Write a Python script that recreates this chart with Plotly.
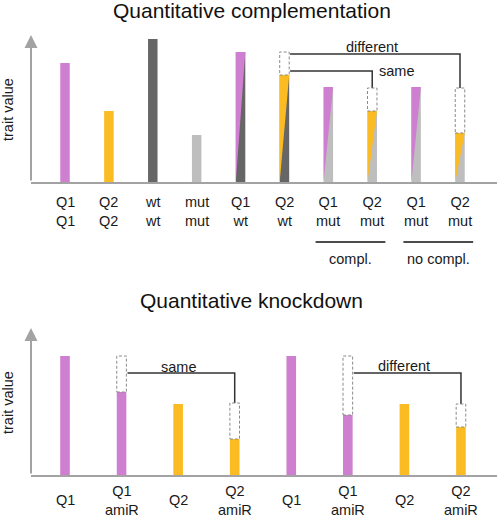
import plotly.graph_objects as go

# ---------------- data ----------------
# top panel: Quantitative complementation
top_line1 = ["Q1", "Q2", "wt", "mut", "Q1", "Q2", "Q1", "Q2", "Q1", "Q2"]
top_line2 = ["Q1", "Q2", "wt", "mut", "wt", "wt", "mut", "mut", "mut", "mut"]
top_values = [119, 71, 143, 47, 130, 107, 95, 71, 95, 49]
top_expected = [None, None, None, None, None, 130, None, 94, None, 94]
top_brackets = [(5, 7, 111), (5, 9, 128)]
top_bracket_text = ["same", "different"]
top_text_x = [7.1, 7.0]
top_text_y = [111, 135]
top_text_anchor = ["left", "center"]
top_groups = ["compl.", "no compl."]
top_group_first = [6, 8]
top_group_last = [7, 9]

# bottom panel: Quantitative knockdown
bot_line1 = ["Q1", "Q1", "Q2", "Q2", "Q1", "Q1", "Q2", "Q2"]
bot_line2 = ["", "amiR", "", "amiR", "", "amiR", "", "amiR"]
bot_values = [119, 83, 71, 36, 119, 60, 71, 48]
bot_expected = [None, 119, None, 72, None, 119, None, 71]
bot_brackets = [(1, 3, 102), (5, 7, 102)]
bot_bracket_text = ["same", "different"]
bot_text_x = [2.0, 6.0]
bot_text_y = [108, 109]

y_max = 147

# ---------------- styles ----------------
COL = {"Q1": "#cf7fd0", "Q2": "#fbbb22", "wt": "#666666", "mut": "#bebebe"}
AXIS = "#a3a3a3"
FONT = "Liberation Sans, Arial, sans-serif"
W, H = 498, 518

fig = go.Figure()
shapes = []
annotations = []


def px_y(p):
    return (H - p) / H


def panel(xa, ya, l1, l2, values, expected, bw, brackets, btext, tx, ty, tanchor):
    xs = list(range(len(values)))
    colors_b = [COL[b] if b in COL else COL[a] for a, b in zip(l1, l2)]
    fig.add_trace(go.Bar(x=xs, y=values, width=bw, marker=dict(color=colors_b, line=dict(width=0)),
                         xaxis=xa, yaxis=ya, hoverinfo="skip"))
    # split (heterozygous) bars: upper-left triangle in first allele colour
    for i, (a, b, v) in enumerate(zip(l1, l2, values)):
        if b in COL and b != a:
            fig.add_trace(go.Scatter(
                x=[i - bw / 2, i - bw / 2, i + bw / 2, i - bw / 2],
                y=[0, v, v, 0], fill="toself", fillcolor=COL[a], mode="lines",
                line=dict(width=0, color=COL[a]), xaxis=xa, yaxis=ya, hoverinfo="skip"))
    # dashed "expected" boxes
    for i, (v, e) in enumerate(zip(values, expected)):
        if e is not None:
            shapes.append(dict(type="rect", xref=xa, yref=ya, x0=i - bw / 2, x1=i + bw / 2,
                               y0=v, y1=e, fillcolor="white",
                               line=dict(color="#8a8a8a", width=1, dash="3px,2px")))
    # brackets
    for (f, t, lvl) in brackets:
        fig.add_trace(go.Scatter(x=[f + bw / 2 + 0.02, t, t], y=[lvl, lvl, expected[t]], mode="lines",
                                 line=dict(color="#333333", width=1.5), xaxis=xa, yaxis=ya,
                                 hoverinfo="skip"))
    for s, x, y, anc in zip(btext, tx, ty, tanchor):
        annotations.append(dict(text=s, x=x, y=y, xref=xa, yref=ya, showarrow=False,
                                xanchor=anc, yanchor="middle",
                                font=dict(size=14.5, color="#1a1a1a", family=FONT)))


bw_top = 0.216
bw_bot = 0.170
panel("x", "y", top_line1, top_line2, top_values, top_expected, bw_top,
      top_brackets, top_bracket_text, top_text_x, top_text_y, top_text_anchor)
panel("x2", "y2", bot_line1, bot_line2, bot_values, bot_expected, bw_bot,
      bot_brackets, bot_bracket_text, bot_text_x, bot_text_y, ["center", "center"])

top_range = [-0.775, 9.843]
bot_range = [-0.601, 7.637]

# tick labels
for i, (a, b) in enumerate(zip(top_line1, top_line2)):
    annotations.append(dict(text=f"{a}<br>{b}", x=i, y=px_y(212), xref="x", yref="paper",
                            showarrow=False, yanchor="middle",
                            font=dict(size=14.5, color="#1a1a1a", family=FONT)))
for i, (a, b) in enumerate(zip(bot_line1, bot_line2)):
    txt = f"{a}<br>{b}" if b else a
    annotations.append(dict(text=txt, x=i, y=px_y(500), xref="x2", yref="paper",
                            showarrow=False, yanchor="middle",
                            font=dict(size=14.5, color="#1a1a1a", family=FONT)))

# group underlines
for g, f, l in zip(top_groups, top_group_first, top_group_last):
    shapes.append(dict(type="line", xref="x", yref="paper", x0=f - 0.29, x1=l + 0.3,
                       y0=px_y(242), y1=px_y(242), line=dict(color="#111111", width=1.5)))
    annotations.append(dict(text=g, x=(f + l) / 2, y=px_y(259), xref="x", yref="paper",
                            showarrow=False, yanchor="middle",
                            font=dict(size=14.5, color="#1a1a1a", family=FONT)))

# titles
for t, yy in [("Quantitative complementation", 11), ("Quantitative knockdown", 300)]:
    annotations.append(dict(text=t, x=252 / W, y=px_y(yy), xref="paper", yref="paper",
                            showarrow=False, yanchor="middle",
                            font=dict(size=21, color="#111111", family=FONT)))

# y axis labels
for yy in [110, 403]:
    annotations.append(dict(text="trait value", x=8 / W, y=px_y(yy), xref="paper", yref="paper",
                            showarrow=False, textangle=-90, xanchor="center", yanchor="middle",
                            font=dict(size=14.5, color="#1a1a1a", family=FONT)))

# y axis arrows
for xa, ya, rng in [("x", "y", top_range), ("x2", "y2", bot_range)]:
    annotations.append(dict(text="", x=rng[0], y=y_max, ax=rng[0], ay=0, xref=xa, yref=ya,
                            axref=xa, ayref=ya, showarrow=True, arrowhead=2, arrowsize=1.3,
                            arrowwidth=2, arrowcolor=AXIS, standoff=0, startstandoff=0))

xcommon = dict(showgrid=False, zeroline=False, showticklabels=False, ticks="",
               showline=True, linecolor=AXIS, linewidth=2, fixedrange=True)
ycommon = dict(showgrid=False, zeroline=False, showticklabels=False, ticks="",
               showline=False, range=[0, y_max], fixedrange=True)

fig.update_layout(
    width=W, height=H, margin=dict(l=0, r=0, t=0, b=0),
    paper_bgcolor="white", plot_bgcolor="white", showlegend=False, barmode="overlay",
    xaxis=dict(domain=[31 / W, 497 / W], range=top_range, anchor="y", **xcommon),
    yaxis=dict(domain=[px_y(182), px_y(35)], anchor="x", **ycommon),
    xaxis2=dict(domain=[31 / W, 497 / W], range=bot_range, anchor="y2", **xcommon),
    yaxis2=dict(domain=[px_y(475), px_y(328)], anchor="x2", **ycommon),
    shapes=shapes, annotations=annotations,
)

fig.write_html("out.html", config={"displayModeBar": False},
               post_script="document.body.style.margin='0';document.body.style.overflow='hidden';")
